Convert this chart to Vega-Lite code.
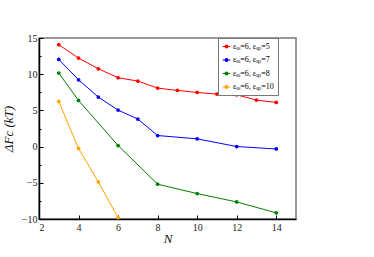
{
  "$schema": "https://vega.github.io/schema/vega-lite/v6.json",
  "width": 257,
  "height": 181,
  "autosize": "none",
  "padding": {"left": 39, "top": 38, "right": 78, "bottom": 38},
  "background": "white",
  "config": {
    "font": "Liberation Serif",
    "view": {"stroke": "#777", "strokeWidth": 1.5},
    "axis": {"grid": false, "domainColor": "black", "tickColor": "black", "labelFont": "Liberation Serif", "labelFontSize": 10, "labelColor": "#222", "titleFont": "Liberation Serif", "titleFontWeight": "normal", "titleFontStyle": "italic", "titleColor": "#111"}
  },
  "data": {"values": [
    {"N": 3, "F": 14.07, "s": "εₛₛ=6, εₛₚ=5"},
    {"N": 4, "F": 12.23, "s": "εₛₛ=6, εₛₚ=5"},
    {"N": 5, "F": 10.75, "s": "εₛₛ=6, εₛₚ=5"},
    {"N": 6, "F": 9.51, "s": "εₛₛ=6, εₛₚ=5"},
    {"N": 7, "F": 9.05, "s": "εₛₛ=6, εₛₚ=5"},
    {"N": 8, "F": 8.08, "s": "εₛₛ=6, εₛₚ=5"},
    {"N": 9, "F": 7.76, "s": "εₛₛ=6, εₛₚ=5"},
    {"N": 10, "F": 7.48, "s": "εₛₛ=6, εₛₚ=5"},
    {"N": 11, "F": 7.25, "s": "εₛₛ=6, εₛₚ=5"},
    {"N": 12, "F": 7.16, "s": "εₛₛ=6, εₛₚ=5"},
    {"N": 13, "F": 6.42, "s": "εₛₛ=6, εₛₚ=5"},
    {"N": 14, "F": 6.1, "s": "εₛₛ=6, εₛₚ=5"},
    {"N": 3, "F": 12.04, "s": "εₛₛ=6, εₛₚ=7"},
    {"N": 4, "F": 9.23, "s": "εₛₛ=6, εₛₚ=7"},
    {"N": 5, "F": 6.84, "s": "εₛₛ=6, εₛₚ=7"},
    {"N": 6, "F": 5.04, "s": "εₛₛ=6, εₛₚ=7"},
    {"N": 7, "F": 3.8, "s": "εₛₛ=6, εₛₚ=7"},
    {"N": 8, "F": 1.53, "s": "εₛₛ=6, εₛₚ=7"},
    {"N": 10, "F": 1.07, "s": "εₛₛ=6, εₛₚ=7"},
    {"N": 12, "F": 0.01, "s": "εₛₛ=6, εₛₚ=7"},
    {"N": 14, "F": -0.33, "s": "εₛₛ=6, εₛₚ=7"},
    {"N": 3, "F": 10.16, "s": "εₛₛ=6, εₛₚ=8"},
    {"N": 4, "F": 6.37, "s": "εₛₛ=6, εₛₚ=8"},
    {"N": 6, "F": 0.15, "s": "εₛₛ=6, εₛₚ=8"},
    {"N": 8, "F": -5.19, "s": "εₛₛ=6, εₛₚ=8"},
    {"N": 10, "F": -6.49, "s": "εₛₛ=6, εₛₚ=8"},
    {"N": 12, "F": -7.64, "s": "εₛₛ=6, εₛₚ=8"},
    {"N": 14, "F": -9.15, "s": "εₛₛ=6, εₛₚ=8"},
    {"N": 3, "F": 6.23, "s": "εₛₛ=6, εₛₚ=10"},
    {"N": 4, "F": -0.25, "s": "εₛₛ=6, εₛₚ=10"},
    {"N": 5, "F": -4.88, "s": "εₛₛ=6, εₛₚ=10"},
    {"N": 6, "F": -9.8, "s": "εₛₛ=6, εₛₚ=10"}
  ]},
  "encoding": {
    "x": {"field": "N", "type": "quantitative", "scale": {"domain": [2, 15], "nice": false},
      "axis": {"values": [2, 4, 6, 8, 10, 12, 14], "tickSize": -4, "labelPadding": 7, "title": "N", "titleFontSize": 13, "titlePadding": 0, "domainWidth": 1.5}},
    "y": {"field": "F", "type": "quantitative", "scale": {"domain": [-10, 15], "nice": false},
      "axis": {"values": [-10, -7.5, -5, -2.5, 0, 2.5, 5, 7.5, 10, 12.5, 15],
        "labelExpr": "datum.value % 5 == 0 ? datum.label : ''",
        "tickSize": {"condition": {"test": "datum.value % 5 == 0", "value": -4}, "value": -2},
        "labelPadding": 6, "title": "ΔFc (kT)", "titleFontSize": 13, "titlePadding": 6, "domainWidth": 1.5}},
    "color": {"field": "s", "type": "nominal", "sort": null,
      "scale": {"range": ["#ff0000", "#0000ff", "#008000", "#ffa500"]},
      "legend": {"title": null, "orient": "none", "legendX": 179, "legendY": 0, "labelFontSize": 8, "labelFont": "Liberation Serif",
        "symbolType": "M -1 0 L 1 0 M 0.35 0 A 0.35 0.35 0 1 1 -0.35 0 A 0.35 0.35 0 1 1 0.35 0",
        "symbolSize": 60, "symbolStrokeWidth": 1.2, "rowPadding": 4.5, "labelOffset": 2,
        "strokeColor": "#777", "padding": 4, "fillColor": "white"}}
  },
  "layer": [
    {"mark": {"type": "line", "strokeWidth": 1}},
    {"mark": {"type": "circle", "size": 14, "opacity": 1}}
  ]
}
